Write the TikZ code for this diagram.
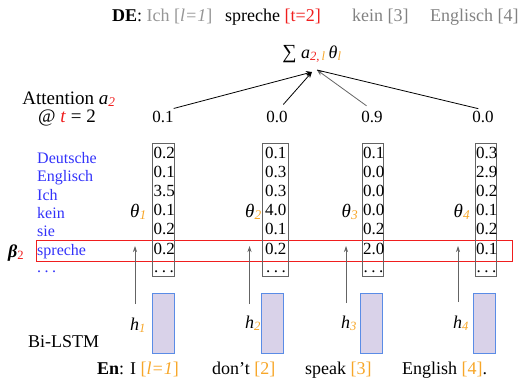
\documentclass[tikz,border=0pt]{standalone}
\usepackage{fontspec}
\setmainfont{Liberation Serif}[ItalicFont={Liberation Serif Italic},BoldFont={Liberation Serif Bold},BoldItalicFont={Liberation Serif Bold Italic}]
\usetikzlibrary{arrows.meta}
\definecolor{orng}{RGB}{247,166,40}
\definecolor{redc}{RGB}{240,30,30}
\definecolor{bluew}{RGB}{50,50,250}
\definecolor{grayt}{RGB}{130,130,130}
\definecolor{grayl}{RGB}{150,150,150}
\definecolor{lstmfill}{RGB}{217,210,233}
\definecolor{lstmdraw}{RGB}{90,140,230}
\definecolor{arrgray}{RGB}{100,100,100}
\newcommand{\fsz}[1]{\fontsize{#1}{#1}\selectfont}
\newcommand{\sbs}[1]{\textsubscript{#1}}
\newcommand{\mydots}{.\hspace{3.5pt}.\hspace{3.5pt}.}
\tikzset{
  txt/.style={inner sep=0pt, anchor=base west, font=\fsz{18}},
  ctxt/.style={inner sep=0pt, anchor=base, font=\fsz{18}},
  val/.style={inner sep=0pt, anchor=base west, font=\fsz{17}},
  word/.style={inner sep=0pt, anchor=base west, font=\fsz{16}, text=bluew},
  vbox/.style={draw=arrgray, line width=0.8pt, inner sep=0pt, minimum height=133pt},
  lstm/.style={draw=lstmdraw, fill=lstmfill, line width=0.9pt, inner sep=0pt, minimum width=22pt, minimum height=60pt},
  upar/.style={draw=arrgray, line width=0.7pt, -{Stealth[length=6pt,width=4pt]}},
  topar/.style={line width=0.8pt, -{Stealth[length=6pt,width=5pt]}},
}
\begin{document}
\begin{tikzpicture}[x=1pt,y=-1pt]
\useasboundingbox (0,0) rectangle (524,381);
% title
\node[txt] (de1) at (112,21) {\textbf{DE}: \textcolor{grayl}{Ich [\textit{l=1}]}};
\node[txt] (de2) at (225,21) {spreche \textcolor{redc}{[t=2]}};
\node[txt,text=grayt] (de3) at (352,21) {kein [3]};
\node[txt,text=grayt] (de4) at (430,21) {Englisch [4]};
% sum
\node[ctxt] (sum) at (312,58) {{\fsz{20}∑} \textit{a}\sbs{\textcolor{redc}{\textit{2,}}\,\textcolor{orng}{\textit{l}}}\,\textit{θ}\sbs{\textcolor{orng}{\textit{l}}}};
\coordinate (tipA) at (312,72);
\coordinate (tipB) at (317,70);
% attention
\node[ctxt,font=\fsz{19}] (att1) at (69,104) {Attention \textit{a}\sbs{\textcolor{redc}{\textit{2}}}};
\node[ctxt,font=\fsz{19}] (att2) at (67,122) {@ \textcolor{redc}{\textit{t}} = 2};
\node[ctxt,font=\fsz{17}] (n1) at (163,122) {0.1};
\node[ctxt,font=\fsz{17}] (n2) at (277,122) {0.0};
\node[ctxt,font=\fsz{17}] (n3) at (372,122) {0.9};
\node[ctxt,font=\fsz{17}] (n4) at (483,122) {0.0};
\draw[topar,shorten <=8pt] ([xshift=3pt]n1.north) -- (tipA);
\draw[topar,shorten <=8pt] ([xshift=1pt]n2.north) -- (tipA);
\draw[topar,draw=arrgray,shorten <=8pt] ([xshift=1pt]n3.north) -- (tipB);
\draw[line width=0.8pt,shorten <=8pt] ([xshift=3pt]n4.north) -- (tipB);
% red row box
\draw[redc, line width=1pt] (36,240) rectangle (512,261);
% vector boxes
\node[vbox,minimum width=22pt] (v1) at (163.4,209.5) {};
\node[vbox,minimum width=26pt] (v2) at (275.5,209.5) {};
\node[vbox,minimum width=21pt] (v3) at (372.8,209.5) {};
\node[vbox,minimum width=21pt] (v4) at (485.6,209.5) {};
\foreach \v [count=\i] in {0.2,0.1,3.5,0.1,0.2,0.2}
  \node[val] (va\i) at (153.5,{158+19.2*(\i-1)}) {\v};
\foreach \v [count=\i] in {0.1,0.3,0.3,4.0,0.1,0.2}
  \node[val] (vb\i) at (265,{158+19.2*(\i-1)}) {\v};
\foreach \v [count=\i] in {0.1,0.0,0.0,0.0,0.2,2.0}
  \node[val] (vc\i) at (362.8,{158+19.2*(\i-1)}) {\v};
\foreach \v [count=\i] in {0.3,2.9,0.2,0.1,0.2,0.1}
  \node[val] (vd\i) at (476,{158+19.2*(\i-1)}) {\v};
\node[val] (va7) at (154,272) {\mydots};
\node[val] (vb7) at (266,272) {\mydots};
\node[val] (vc7) at (363.5,272) {\mydots};
\node[val] (vd7) at (476.5,272) {\mydots};
% blue words
\foreach \w [count=\i] in {Deutsche,Englisch,Ich,kein,sie,spreche}
  \node[word] (w\i) at (37,{163.5+18.3*(\i-1)}) {\w};
\node[word] (w7) at (37,272) {\mydots};
% beta
\node[txt] (beta) at (8,257) {\textbf{\textit{β}}\sbs{\textcolor{redc}{2}}};
% theta labels
\node[txt,font=\fsz{19}] (th1) at (130,217) {\textit{θ}\sbs{\textcolor{orng}{\textit{1}}}};
\node[txt,font=\fsz{19}] (th2) at (245,217) {\textit{θ}\sbs{\textcolor{orng}{\textit{2}}}};
\node[txt,font=\fsz{19}] (th3) at (341.5,217) {\textit{θ}\sbs{\textcolor{orng}{\textit{3}}}};
\node[txt,font=\fsz{19}] (th4) at (453.5,217) {\textit{θ}\sbs{\textcolor{orng}{\textit{4}}}};
% lstm boxes
\node[lstm] (l1) at (163,323) {};
\node[lstm] (l2) at (272.7,323) {};
\node[lstm] (l3) at (371.3,323) {};
\node[lstm] (l4) at (484,323) {};
% h labels
\node[txt] (h1) at (130,330) {\textit{h}\sbs{\textcolor{orng}{\textit{1}}}};
\node[txt] (h2) at (245,328) {\textit{h}\sbs{\textcolor{orng}{\textit{2}}}};
\node[txt] (h3) at (341,328) {\textit{h}\sbs{\textcolor{orng}{\textit{3}}}};
\node[txt] (h4) at (453,328) {\textit{h}\sbs{\textcolor{orng}{\textit{4}}}};
% up arrows
\coordinate (b1) at (135,304); \coordinate (t1) at (135,246);
\coordinate (b2) at (249.5,304); \coordinate (t2) at (249.5,246);
\coordinate (b3) at (346,303); \coordinate (t3) at (346,246);
\coordinate (b4) at (458,302); \coordinate (t4) at (458,246);
\draw[upar] (b1) -- (t1);
\draw[upar] (b2) -- (t2);
\draw[upar] (b3) -- (t3);
\draw[upar] (b4) -- (t4);
% bottom labels
\node[txt] (bilstm) at (28,347) {Bi-LSTM};
\node[txt] (en1) at (97,374) {\textbf{En}: I \textcolor{orng}{[\textit{l=1}]}};
\node[txt] (en2) at (212,374) {don’t \textcolor{orng}{[2]}};
\node[txt] (en3) at (305,374) {speak \textcolor{orng}{[3]}};
\node[txt] (en4) at (402,374) {English \textcolor{orng}{[4]}.};
\end{tikzpicture}
\end{document}
